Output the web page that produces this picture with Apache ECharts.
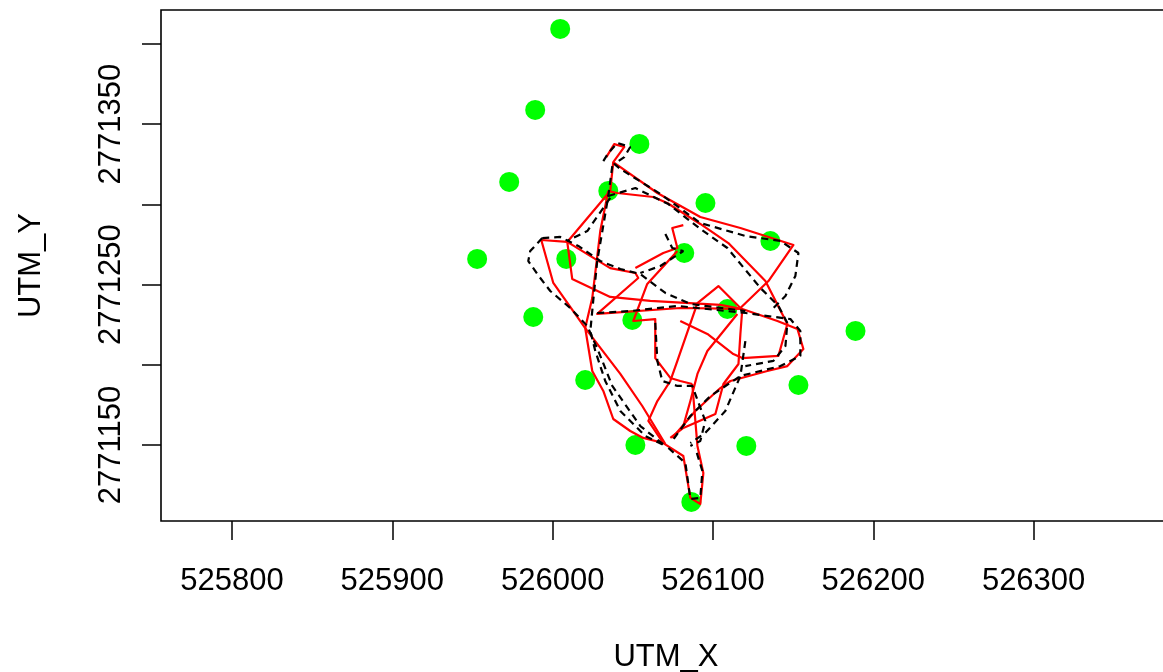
<!DOCTYPE html>
<html>
<head>
<meta charset="utf-8">
<script src="https://cdn.jsdelivr.net/npm/echarts@6/dist/echarts.min.js"></script>
<style>
  html, body { margin: 0; padding: 0; background: #ffffff; }
  #chart { width: 1163px; height: 672px; }
</style>
</head>
<body>
<div id="chart"></div>
<script>
// Axis ticks and labels (UTM metres)
const xTicks = [525800, 525900, 526000, 526100, 526200, 526300];
const yTicks = [2771150, 2771200, 2771250, 2771300, 2771350, 2771400];
const yLabelValues = [2771150, 2771250, 2771350];
const xRange = [525755.7, 526385.7];
const yRange = [2771102.6, 2771421.2];

// Station locations
const siteX = [526004.7, 525989.1, 526054.1, 525972.9, 526034.7, 526095.3, 526135.8, 525952.9, 526008.5, 526082.1,
               526109.0, 525987.9, 526049.7, 526188.9, 526020.3, 526153.3, 526051.6, 526120.8, 526086.5];
const siteY = [2771409.4, 2771358.9, 2771337.7, 2771314.0, 2771308.4, 2771300.9, 2771277.2, 2771266.0, 2771266.0, 2771269.7,
               2771234.8, 2771229.8, 2771227.9, 2771221.1, 2771190.5, 2771187.4, 2771150.0, 2771149.4, 2771114.5];

// Observed track, solid red (null = break between track pieces)
const trackX = [
  526033.5, 526038.4, 526044.7, 526037.8, 526065.3, 526092.1, 526117.1, 526150.2, 526134.6, 526117.1, 526103.4, 526090.3, 526077.8, 526073.4, 526065.3, 526059.7, 526069.0, null,
  526037.8, 526035.9, 526009.1, 525992.9, 526000.4, 526020.3, 526042.2, 526055.9, 526070.3, null,
  526020.3, 526024.7, 526031.6, 526037.8, 526048.4, 526056.5, 526069.0, null,
  526034.7, 526040.3, 526062.8, 526071.5, 526092.1, 526109.6, 526132.7, 526146.4, 526140.8, 526118.3, 526112.7, 526096.5, 526079.6, null,
  526034.7, 526029.7, 526024.7, 526020.3, null,
  526009.1, 526012.2, 526035.9, 526060.9, 526104.6, 526118.3, null,
  526009.1, 526035.9, 526051.6, 526053.4, 526027.8, 526079.6, 526118.3, 526140.2, 526152.7, 526156.4, 526146.4, 526133.9, 526110.9, 526104.6, 526089.0, 526074.6, null,
  526081.5, 526074.6, 526077.8, 526069.0, 526051.6, null,
  526077.8, 526059.0, 526050.3, 526064.0, 526064.0, 526073.4, 526079.6, 526087.1, null,
  526118.3, 526117.1, 526115.9, 526106.5, 526101.5, 526081.5, 526073.4, null,
  526115.2, 526096.5, 526090.3, 526085.9, 526081.5, null,
  526069.0, 526081.5, 526085.9, 526092.1, 526094.0, 526090.3, 526087.1
];
const trackY = [
  2771329.5, 2771337.6, 2771335.8, 2771326.4, 2771307.1, 2771292.1, 2771285.3, 2771274.7, 2771252.2, 2771235.4, 2771249.1, 2771238.5, 2771202.4, 2771189.9, 2771177.4, 2771165.0, 2771151.2, null,
  2771326.4, 2771308.3, 2771276.6, 2771277.8, 2771251.0, 2771222.9, 2771194.3, 2771174.3, 2771150.6, null,
  2771222.9, 2771196.1, 2771183.7, 2771166.2, 2771158.7, 2771154.4, 2771151.2, null,
  2771308.3, 2771307.1, 2771304.6, 2771300.9, 2771287.8, 2771275.9, 2771252.2, 2771225.4, 2771205.5, 2771204.2, 2771206.7, 2771219.2, 2771227.3, null,
  2771308.3, 2771283.4, 2771241.6, 2771222.9, null,
  2771276.6, 2771253.5, 2771242.3, 2771239.8, 2771237.3, 2771234.8, null,
  2771276.6, 2771260.3, 2771257.2, 2771254.1, 2771231.7, 2771235.4, 2771234.8, 2771227.3, 2771222.3, 2771209.8, 2771199.2, 2771196.1, 2771189.9, 2771185.5, 2771171.2, 2771154.4, null,
  2771287.1, 2771285.3, 2771272.8, 2771269.7, 2771260.3, null,
  2771270.9, 2771250.4, 2771227.3, 2771228.5, 2771204.2, 2771191.8, 2771189.9, 2771188.0, null,
  2771234.8, 2771219.2, 2771200.5, 2771188.0, 2771169.3, 2771160.6, 2771154.4, null,
  2771231.7, 2771208.6, 2771194.3, 2771177.4, 2771161.8, null,
  2771151.2, 2771143.1, 2771117.0, 2771113.2, 2771132.5, 2771149.4, 2771188.0
];

// Estimated track, black dashed (null = break)
const estX = [
  526031.6, 526034.7, 526040.3, 526048.4, 526044.7, 526038.4, 526042.2, 526067.2, 526092.1, 526120.2, 526142.1, 526153.3, 526151.4, 526145.2, 526135.8, null,
  526037.2, 526034.7, 526031.0, 526027.8, 526025.3, 526023.5, 526026.6, 526032.8, 526042.2, 526057.8, 526070.3, null,
  525993.5, 526004.7, 526016.0, 526029.7, 526042.2, 526054.7, 526070.3, 526085.9, 526120.2, null,
  525993.5, 525986.0, 525984.8, 525990.4, 525998.5, 526011.0, 526021.6, 526028.5, 526037.2, 526054.7, 526070.3, null,
  526034.7, 526051.6, 526072.2, 526092.1, 526109.0, 526129.6, 526140.8, 526146.4, 526145.2, 526137.7, 526120.2, null,
  526070.3, 526074.6, 526081.5, 526067.2, 526054.7, null,
  526027.8, 526048.4, 526077.8, 526120.2, 526148.3, 526154.5, 526154.5, 526142.1, 526117.1, 526098.4, 526085.9, 526074.6, null,
  526064.0, 526065.3, 526068.4, 526077.8, 526087.1, 526095.2, 526092.1, 526085.9, null,
  526072.2, 526082.8, 526085.9, 526092.1, 526093.4, 526089.0, null,
  526120.2, 526117.1, 526107.7, 526095.2, 526085.9, null,
  526035.9, 526021.6, 526009.1
];
const estY = [
  2771327.0, 2771332.0, 2771338.3, 2771335.8, 2771329.5, 2771325.2, 2771322.1, 2771306.5, 2771288.4, 2771280.3, 2771277.2, 2771269.7, 2771255.4, 2771242.9, 2771233.5, null,
  2771323.9, 2771305.2, 2771283.4, 2771264.7, 2771239.8, 2771221.1, 2771208.6, 2771189.9, 2771171.2, 2771155.6, 2771149.4, null,
  2771279.0, 2771279.7, 2771274.1, 2771264.7, 2771259.7, 2771256.6, 2771244.8, 2771237.9, 2771233.5, null,
  2771279.0, 2771270.9, 2771264.7, 2771256.6, 2771246.0, 2771235.4, 2771224.2, 2771208.6, 2771186.8, 2771161.8, 2771149.4, null,
  2771305.2, 2771310.2, 2771300.2, 2771284.7, 2771272.8, 2771247.9, 2771236.7, 2771226.1, 2771211.7, 2771202.4, 2771199.2, null,
  2771281.5, 2771272.8, 2771270.9, 2771261.6, 2771257.2, null,
  2771232.3, 2771233.5, 2771236.7, 2771232.3, 2771228.5, 2771221.1, 2771205.5, 2771199.2, 2771193.0, 2771180.5, 2771168.1, 2771152.5, null,
  2771226.1, 2771202.4, 2771189.9, 2771186.8, 2771186.8, 2771165.0, 2771152.5, 2771149.4, null,
  2771148.1, 2771138.8, 2771116.3, 2771117.0, 2771133.8, 2771148.1, null,
  2771214.8, 2771193.0, 2771171.2, 2771157.5, 2771151.2, null,
  2771304.0, 2771283.4, 2771277.2
];

const FONT = '"Liberation Sans", Arial, Helvetica, sans-serif';

// Split a null-separated coordinate list into polyline pieces
function pieces(xs, ys) {
  const out = [];
  let cur = [];
  xs.forEach((x, i) => {
    if (x === null) { if (cur.length) out.push(cur); cur = []; }
    else cur.push([x, ys[i]]);
  });
  if (cur.length) out.push(cur);
  return out;
}

const series = [{
  type: 'scatter',
  data: siteX.map((x, i) => [x, siteY[i]]),
  symbol: 'circle',
  symbolSize: 20,
  itemStyle: { color: '#00ff00', opacity: 1 },
  z: 1,
  silent: true
}];

pieces(trackX, trackY).forEach(p => series.push({
  type: 'line', data: p, showSymbol: false, symbol: 'none',
  lineStyle: { color: '#ff0000', width: 2.2, join: 'round' }, z: 2, silent: true
}));
pieces(estX, estY).forEach(p => series.push({
  type: 'line', data: p, showSymbol: false, symbol: 'none',
  lineStyle: { color: '#000000', width: 2.2, type: [7, 5] }, z: 3, silent: true
}));

const plain = v => String(Math.round(v));

const chart = echarts.init(document.getElementById('chart'), null, { renderer: 'canvas' });
chart.setOption({
  animation: false,
  backgroundColor: '#ffffff',
  textStyle: { fontFamily: FONT },
  grid: {
    left: 161, top: 10, width: 1010, height: 511,
    show: true, borderColor: '#000000', borderWidth: 1.6, backgroundColor: 'transparent',
    containLabel: false, outerBoundsMode: 'none'
  },
  xAxis: {
    type: 'value', min: xRange[0], max: xRange[1],
    axisLine: { show: false, onZero: false },
    splitLine: { show: false },
    axisTick: { show: true, length: 19, lineStyle: { color: '#000', width: 1.5 }, customValues: xTicks },
    axisLabel: { customValues: xTicks, formatter: plain, fontSize: 31, color: '#000', margin: 45, fontFamily: FONT },
    name: 'UTM_X', nameLocation: 'middle', nameGap: 121,
    nameTextStyle: { fontSize: 31, color: '#000', fontFamily: FONT }
  },
  yAxis: {
    type: 'value', min: yRange[0], max: yRange[1],
    axisLine: { show: false, onZero: false },
    splitLine: { show: false },
    axisTick: { show: true, length: 19, lineStyle: { color: '#000', width: 1.5 }, customValues: yTicks },
    axisLabel: { customValues: yLabelValues, formatter: plain, rotate: 90, fontSize: 31, color: '#000', margin: 34, fontFamily: FONT },
    name: 'UTM_Y', nameLocation: 'middle', nameGap: 114, nameRotate: 90,
    nameTextStyle: { fontSize: 31, color: '#000', fontFamily: FONT }
  },
  series: series
});
</script>
</body>
</html>
